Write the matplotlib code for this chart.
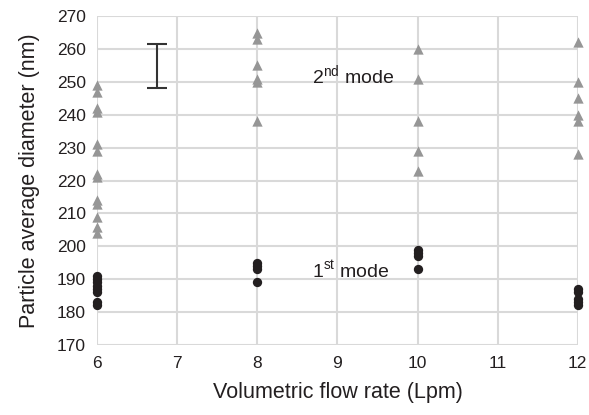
import matplotlib
matplotlib.use("Agg")
import matplotlib.pyplot as plt

plt.rcParams['font.family'] = ['Liberation Sans', 'DejaVu Sans']
plt.rcParams['mathtext.fontset'] = 'custom'
plt.rcParams['mathtext.rm'] = 'Liberation Sans'

# 2nd mode (triangles)
x_2nd = [6] * 13 + [8] * 6 + [10] * 5 + [12] * 6
y_2nd = [249, 247, 242, 241, 231, 229, 222, 221, 214, 213, 209, 206, 204,
         265, 263, 255, 251, 250, 238,
         260, 251, 238, 229, 223,
         262, 250, 245, 240, 238, 228]

# 1st mode (circles)
x_1st = [6] * 8 + [8] * 4 + [10] * 4 + [12] * 5
y_1st = [191, 190, 189, 188, 187, 186, 183, 182,
         195, 194, 193, 189,
         199, 198, 197, 193,
         187, 186, 184, 183, 182]

# uncertainty bar
err_x = 6.75
err_lo, err_hi = 248, 261.5

fig = plt.figure(figsize=(5.89, 4.15), dpi=100)
ax = fig.add_axes([0.165, 0.169, 0.816, 0.792])

ax.scatter(x_2nd, y_2nd, marker='^', s=55, color='#969696', zorder=3,
           linewidths=0, clip_on=False)
ax.scatter(x_1st, y_1st, marker='o', s=45, color='#231f20', zorder=3,
           linewidths=0, clip_on=False)
ax.errorbar([err_x], [(err_lo + err_hi) / 2], yerr=[(err_hi - err_lo) / 2],
            fmt='none', ecolor='#333333', elinewidth=1.5, capsize=7, capthick=1.5, zorder=3)

ax.text(8.68, 252, r'2$^{\mathrm{nd}}$ mode', fontsize=14, color='#231f20',
        ha='left', va='center')
ax.text(8.68, 192.5, r'1$^{\mathrm{st}}$ mode', fontsize=14, color='#231f20',
        ha='left', va='center')

ax.set_xlim(6, 12)
ax.set_ylim(170, 270)
ax.set_xticks(range(6, 13))
ax.set_yticks(range(170, 271, 10))
ax.grid(True, color='#d9d9d9', linewidth=1.5, zorder=0)
ax.set_axisbelow(True)
for s in ax.spines.values():
    s.set_visible(False)
ax.tick_params(length=0, labelsize=12.5, colors='#231f20', pad=8)

ax.set_xlabel('Volumetric flow rate (Lpm)', fontsize=15.5, color='#231f20', labelpad=8)
ax.set_ylabel('Particle average diameter (nm)', fontsize=15.5, color='#231f20', labelpad=12)

fig.savefig('out.png', dpi=100)
